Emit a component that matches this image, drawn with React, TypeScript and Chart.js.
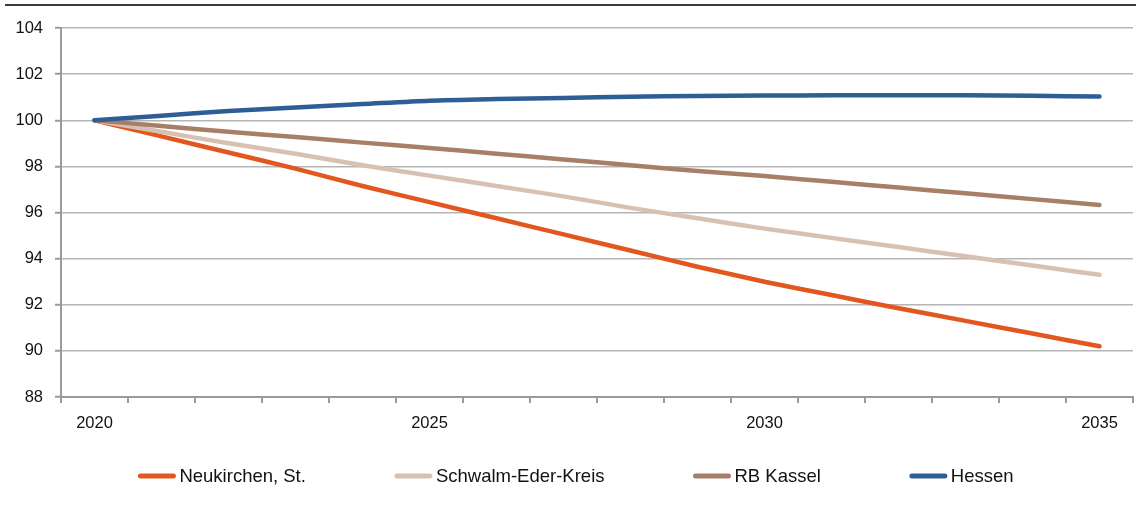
import React, { useEffect, useRef } from "react";
import { Chart, registerables } from "chart.js";

Chart.register(...registerables);

// Population index (2020 = 100)
const years = [
  "2020", "2021", "2022", "2023", "2024", "2025", "2026", "2027",
  "2028", "2029", "2030", "2031", "2032", "2033", "2034", "2035",
];
const neukirchen = [100, 99.3, 98.6, 97.9, 97.15, 96.45, 95.75, 95.05, 94.35, 93.65, 93.0, 92.42, 91.85, 91.3, 90.75, 90.2];
const schwalmEder = [100, 99.5, 99.0, 98.55, 98.05, 97.6, 97.15, 96.7, 96.2, 95.75, 95.3, 94.9, 94.5, 94.1, 93.7, 93.3];
const rbKassel = [100, 99.75, 99.5, 99.27, 99.03, 98.8, 98.55, 98.3, 98.05, 97.8, 97.58, 97.33, 97.08, 96.83, 96.58, 96.33];
const hessen = [100, 100.2, 100.4, 100.55, 100.7, 100.85, 100.92, 100.97, 101.02, 101.05, 101.07, 101.08, 101.08, 101.08, 101.06, 101.03];

const seriesNames = ["Neukirchen, St.", "Schwalm-Eder-Kreis", "RB Kassel", "Hessen"];
const seriesColors = ["#E2571F", "#D8C1B3", "#A77F66", "#2F5E96"];

const FONT = "'Liberation Sans', Arial, sans-serif";

// Horizontal rule across the top of the figure
const topRule = {
  id: "topRule",
  afterDraw(chart: any) {
    const ctx = chart.ctx;
    ctx.save();
    ctx.strokeStyle = "#3a3a3a";
    ctx.lineWidth = 2;
    ctx.beginPath();
    ctx.moveTo(5, 5);
    ctx.lineTo(chart.width, 5);
    ctx.stroke();
    ctx.restore();
  },
};

// Legend row below the axis: short line sample followed by the label
const bottomLegend = {
  id: "bottomLegend",
  afterDraw(chart: any) {
    const ctx = chart.ctx;
    const sample = 37;
    const gapText = 4;
    const gapItem = 89;
    const y = 476;
    ctx.save();
    ctx.font = `18.5px ${FONT}`;
    const items = chart.data.datasets.map((ds: any) => ({
      label: ds.label,
      color: ds.borderColor,
      w: ctx.measureText(ds.label).width,
    }));
    const total =
      items.reduce((s: number, it: any) => s + sample + gapText + it.w, 0) +
      gapItem * (items.length - 1);
    let x = chart.width / 2 + 8 - total / 2;
    for (const it of items) {
      ctx.strokeStyle = it.color;
      ctx.lineWidth = 5;
      ctx.lineCap = "round";
      ctx.beginPath();
      ctx.moveTo(x + 2, y);
      ctx.lineTo(x + sample - 2, y);
      ctx.stroke();
      ctx.fillStyle = "#111";
      ctx.textBaseline = "middle";
      ctx.textAlign = "left";
      ctx.fillText(it.label, x + sample + gapText, y + 1);
      x += sample + gapText + it.w + gapItem;
    }
    ctx.restore();
  },
};

export default function App() {
  const ref = useRef<HTMLCanvasElement>(null);

  useEffect(() => {
    if (!ref.current) return;
    const values = [neukirchen, schwalmEder, rbKassel, hessen];
    const chart = new Chart(ref.current, {
      type: "line",
      data: {
        labels: years,
        datasets: values.map((data, i) => ({
          label: seriesNames[i],
          data,
          borderColor: seriesColors[i],
          backgroundColor: seriesColors[i],
          borderWidth: 4.5,
          borderCapStyle: "round" as const,
          borderJoinStyle: "round" as const,
          pointRadius: 0,
          tension: 0.25,
          fill: false,
          order: 3 - i,
        })),
      },
      options: {
        responsive: false,
        animation: false,
        layout: { padding: { top: 28, left: 0, right: 3, bottom: 71 } },
        plugins: {
          legend: { display: false },
          tooltip: { enabled: false },
        },
        scales: {
          x: {
            type: "category",
            offset: true,
            grid: {
              offset: true,
              drawOnChartArea: false,
              drawTicks: true,
              tickLength: 6,
              color: "#9a9a9a",
              lineWidth: 2,
            },
            border: { display: true, color: "#9a9a9a", width: 2 },
            ticks: {
              autoSkip: false,
              maxRotation: 0,
              padding: 11,
              color: "#111",
              font: { family: FONT, size: 16.5 },
              callback: (_v: any, i: number) => (i % 5 === 0 ? years[i] : ""),
            },
            afterFit: (s: any) => {
              s.height = 40;
            },
          },
          y: {
            min: 88,
            max: 104,
            ticks: {
              stepSize: 2,
              padding: 12,
              color: "#111",
              font: { family: FONT, size: 16.5 },
            },
            grid: {
              color: "#b5b5b5",
              lineWidth: 1.5,
              tickLength: 6,
              tickColor: "#9a9a9a",
              tickWidth: 2,
            },
            border: { display: true, color: "#9a9a9a", width: 2 },
            afterFit: (s: any) => {
              s.width = 61;
            },
          },
        },
      },
      plugins: [topRule, bottomLegend],
    });
    return () => chart.destroy();
  }, []);

  return (
    <div style={{ position: "absolute", left: 0, top: 0, width: 1136, height: 508, background: "#fff" }}>
      <canvas ref={ref} width={1136} height={508} />
    </div>
  );
}
